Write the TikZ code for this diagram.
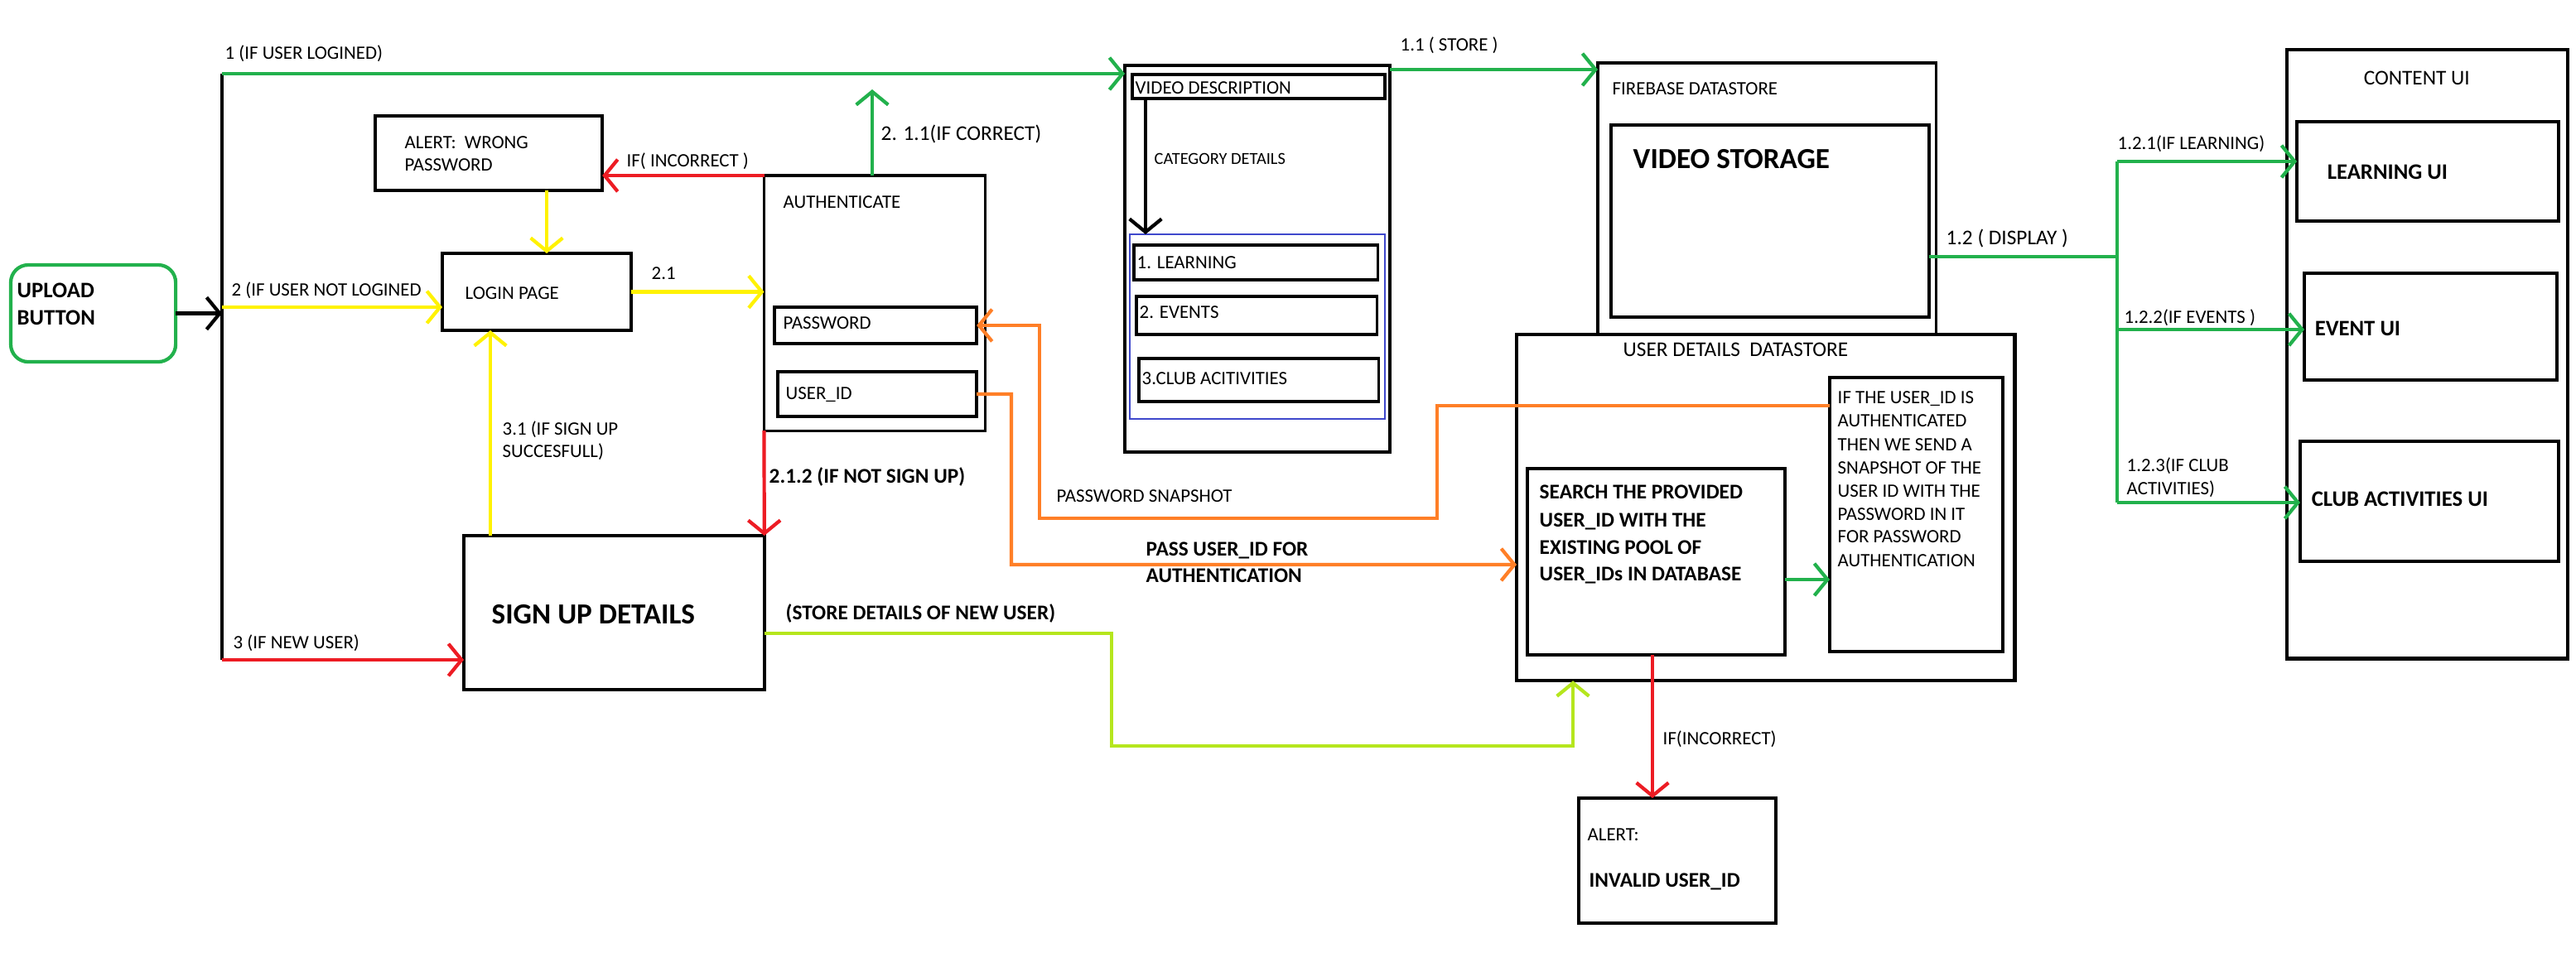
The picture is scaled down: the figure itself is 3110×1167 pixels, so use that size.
\documentclass[tikz,border=0pt]{standalone}
\usepackage{fontspec}
\setmainfont{Carlito}
\usetikzlibrary{arrows.meta}
\definecolor{pgreen}{HTML}{22B14C}
\definecolor{pred}{HTML}{ED1C24}
\definecolor{pyellow}{HTML}{FFF200}
\definecolor{porange}{HTML}{FF7F27}
\definecolor{plime}{HTML}{B5E61D}
\definecolor{pblue}{HTML}{3F48CC}
\begin{document}
\begin{tikzpicture}[x=0.01cm,y=-0.01cm,
  box/.style={draw=black, line width=1.2pt, anchor=north west, inner sep=0pt, outer sep=0pt},
  thinbox/.style={box, line width=0.9pt},
  fs/.style={font=\fontsize{6.5}{8}\selectfont},
  fss/.style={font=\fontsize{5.8}{7}\selectfont},
  fm/.style={font=\fontsize{7.2}{9}\selectfont},
  fmb/.style={font=\bfseries\fontsize{7.2}{9}\selectfont},
  fub/.style={font=\bfseries\fontsize{7.6}{9}\selectfont},
  fb/.style={font=\bfseries\fontsize{10}{12}\selectfont},
  t/.style={anchor=base west, inner sep=0pt},
  seg/.style={line width=1.2pt},
  conn/.style={line width=1.2pt, -{Straight Barb[length=4.5pt,width=11pt]}},
]
\useasboundingbox[fill=white] (0,0) rectangle (3110,1167);

% ---------- boxes ----------
\node[box, draw=pgreen, rounded corners=6pt, minimum width=1.99cm, minimum height=1.17cm] (upload) at (13,320) {};
\node[box, minimum width=2.74cm, minimum height=0.90cm] (alert1) at (453,140) {};
\node[box, minimum width=2.28cm, minimum height=0.93cm] (login) at (534,306) {};
\node[box, minimum width=3.625cm, minimum height=1.86cm] (signup) at (560,647) {};
\node[thinbox, minimum width=2.665cm, minimum height=3.08cm] (auth) at (922.5,212) {};
\node[box, minimum width=2.44cm, minimum height=0.44cm] (pwd) at (935,371) {};
\node[box, minimum width=2.40cm, minimum height=0.54cm] (uid) at (939,449) {};
\node[box, minimum width=3.20cm, minimum height=4.67cm] (vdouter) at (1358,79) {};
\node[box, minimum width=3.05cm, minimum height=0.29cm] (vdinner) at (1367,90) {};
\node[box, draw=pblue, line width=0.6pt, minimum width=3.08cm, minimum height=2.23cm] (blue) at (1364,283) {};
\node[thinbox, minimum width=2.94cm, minimum height=0.42cm] (learn) at (1369,296) {};
\node[thinbox, minimum width=2.90cm, minimum height=0.46cm] (events) at (1372,358) {};
\node[thinbox, minimum width=2.89cm, minimum height=0.52cm] (club) at (1375,433) {};
\node[thinbox, minimum width=4.08cm, minimum height=3.28cm] (firebase) at (1929,76) {};
\node[box, minimum width=3.84cm, minimum height=2.32cm] (vstorage) at (1945,151) {};
\node[box, fill=white, minimum width=6.01cm, minimum height=4.18cm] (userdet) at (1831,404) {};
\node[box, minimum width=3.11cm, minimum height=2.25cm] (search) at (1844,566) {};
\node[box, minimum width=2.09cm, minimum height=3.31cm] (ifbox) at (2209,456) {};
\node[box, minimum width=2.38cm, minimum height=1.51cm] (invalid) at (1906,964) {};
\node[box, minimum width=3.39cm, minimum height=7.35cm] (content) at (2761,60) {};
\node[box, minimum width=3.16cm, minimum height=1.20cm] (learnui) at (2773,147) {};
\node[box, minimum width=3.05cm, minimum height=1.29cm] (eventui) at (2782,330) {};
\node[box, minimum width=3.12cm, minimum height=1.45cm] (clubui) at (2777,533) {};

% ---------- helper coordinates ----------
\coordinate (bustop) at (268,89);
\coordinate (busbot) at (268,797);
\coordinate (r11) at (0,84);
\coordinate (c211) at (1053,108);
\coordinate (r2) at (0,371);
\coordinate (c660) at (660,0);
\coordinate (c592) at (592,0);
\coordinate (l1) at (1342,765);
\coordinate (l2) at (1342,901);
\coordinate (l3) at (1899,901);
\coordinate (o1) at (1735,490);
\coordinate (o2) at (1735,626);
\coordinate (o3) at (1255,626);
\coordinate (o4) at (1255,393);
\coordinate (p1) at (1221,476);
\coordinate (p2) at (1221,682);
\coordinate (r700) at (0,700);
\coordinate (c1995) at (1995,0);
\coordinate (c1383) at (1383,0);
\coordinate (g1) at (2556,310);
\coordinate (gt) at (2556,195);
\coordinate (gm) at (2556,398);
\coordinate (gb) at (2556,607);

% ---------- connectors ----------
\draw[seg, line width=0.9pt] (bustop) -- (busbot);
\draw[conn, black] (upload.east) -- (upload.east -| bustop);
\draw[conn, pgreen] (bustop) -- (bustop -| vdouter.west);
\draw[conn, pgreen] (vdouter.east |- r11) -- (firebase.west |- r11);
\draw[conn, pgreen] (auth.north -| c211) -- (c211);
\draw[conn, pyellow] (bustop |- r2) -- (login.west |- r2);
\draw[conn, pyellow] (login.east) -- (login.east -| auth.west);
\draw[conn, pred] (auth.north west) -- (alert1.east |- auth.north west);
\draw[conn, pyellow] (alert1.south -| c660) -- (login.north -| c660);
\draw[conn, pyellow] (signup.north -| c592) -- (login.south -| c592);
\draw[conn, pred] (busbot) -- (busbot -| signup.west);
\draw[conn, pred] (auth.south west) -- (signup.north east);
\draw[conn, plime] (signup.east |- l1) -- (l1) -- (l2) -- (l3) -- (userdet.south -| l3);
\draw[conn, porange] (ifbox.west |- o1) -- (o1) -- (o2) -- (o3) -- (o4) -- (pwd.east |- o4);
\draw[conn, porange] (uid.east) -- (p1) -- (p2) -- (userdet.west |- p2);
\draw[conn, pgreen] (search.east |- r700) -- (ifbox.west |- r700);
\draw[conn, pred] (search.south -| c1995) -- (invalid.north -| c1995);
\draw[conn, black] (vdinner.south -| c1383) -- (blue.north -| c1383);
\draw[seg, pgreen] (vstorage.east |- g1) -- (g1);
\draw[seg, pgreen] (gt) -- (gb);
\draw[conn, pgreen] (gt) -- (learnui.west |- gt);
\draw[conn, pgreen] (gm) -- (eventui.west |- gm);
\draw[conn, pgreen] (gb) -- (clubui.west |- gb);

% ---------- texts ----------
\node[t, fs] (t1) at (271,72) {1 (IF USER LOGINED)};
\node[t, fs] (ta1) at (488,180) {ALERT:\ \ WRONG};
\node[t, fs] (ta2) at (488,207) {PASSWORD};
\node[t, fs] (tinc) at (756,202) {IF( INCORRECT )};
\node[t, fs] (tlogin) at (561,361) {LOGIN PAGE};
\node[t, fs] (t21) at (786,338) {2.1};
\node[t, fub] (tup1) at (20,360) {UPLOAD};
\node[t, fub] (tup2) at (20,393) {BUTTON};
\node[t, fs] (t2) at (279,357) {2 (IF USER NOT LOGINED};
\node[t, fs] (t31a) at (606,525) {3.1 (IF SIGN UP};
\node[t, fs] (t31b) at (606,552) {SUCCESFULL)};
\node[t, fb] (tsign) at (593,753) {SIGN UP DETAILS};
\node[t, fs] (t3) at (281,783) {3 (IF NEW USER)};
\node[t, fmb] (t212) at (928,583) {2.1.2 (IF NOT SIGN UP)};
\node[t, fs] (tauth) at (945,252) {AUTHENTICATE};
\node[t, fs] (tpwd) at (945,397) {PASSWORD};
\node[t, fs] (tuid) at (948,482) {USER\_ID};
\node[t, fm] (t211) at (1063,170) {2. 1.1(IF CORRECT)};
\node[t, fs] (tvd) at (1370,114) {VIDEO DESCRIPTION};
\node[t, fss] (tcat) at (1393,199) {CATEGORY DETAILS};
\node[t, fs] (tl) at (1372,324) {1. LEARNING};
\node[t, fs] (te) at (1375,385) {2. EVENTS};
\node[t, fs] (tc) at (1378,464) {3.CLUB ACITIVITIES};
\node[t, fs] (t11) at (1690,62) {1.1 ( STORE )};
\node[t, fs] (tfb) at (1946,115) {FIREBASE DATASTORE};
\node[t, fb] (tvs) at (1971,204) {VIDEO STORAGE};
\node[t, fm] (t12) at (2349,296) {1.2 ( DISPLAY )};
\node[t, fm] (tcui) at (2853,103) {CONTENT UI};
\node[t, fub] (tlui) at (2809,217) {LEARNING UI};
\node[t, fs] (t121) at (2556,181) {1.2.1(IF LEARNING)};
\node[t, fub] (teui) at (2794,406) {EVENT UI};
\node[t, fs] (t122) at (2564,390) {1.2.2(IF EVENTS )};
\node[t, fs] (t123a) at (2567,569) {1.2.3(IF CLUB};
\node[t, fs] (t123b) at (2567,597) {ACTIVITIES)};
\node[t, fub] (tclui) at (2790,611) {CLUB ACTIVITIES UI};
\node[t, fm] (tud) at (1959,430) {USER DETAILS\ \ DATASTORE};
\node[t, fs] (ti1) at (2218,487) {IF THE USER\_ID IS};
\node[t, fs] (ti2) at (2218,515) {AUTHENTICATED};
\node[t, fs] (ti3) at (2218,544) {THEN WE SEND A};
\node[t, fs] (ti4) at (2218,572) {SNAPSHOT OF THE};
\node[t, fs] (ti5) at (2218,600) {USER ID WITH THE};
\node[t, fs] (ti6) at (2218,628) {PASSWORD IN IT};
\node[t, fs] (ti7) at (2218,655) {FOR PASSWORD};
\node[t, fs] (ti8) at (2218,684) {AUTHENTICATION};
\node[t, fmb] (ts1) at (1858,602) {SEARCH THE PROVIDED};
\node[t, fmb] (ts2) at (1858,636) {USER\_ID WITH THE};
\node[t, fmb] (ts3) at (1858,669) {EXISTING POOL OF};
\node[t, fmb] (ts4) at (1858,701) {USER\_IDs IN DATABASE};
\node[t, fs] (tps) at (1275,606) {PASSWORD SNAPSHOT};
\node[t, fmb] (tpu1) at (1383,671) {PASS USER\_ID FOR};
\node[t, fmb] (tpu2) at (1383,703) {AUTHENTICATION};
\node[t, fmb] (tstore) at (948,748) {(STORE DETAILS OF NEW USER)};
\node[t, fs] (tinc2) at (2007,899) {IF(INCORRECT)};
\node[t, fs] (tal) at (1916,1015) {ALERT:};
\node[t, fmb] (tinv) at (1918,1071) {INVALID USER\_ID};
\end{tikzpicture}
\end{document}
